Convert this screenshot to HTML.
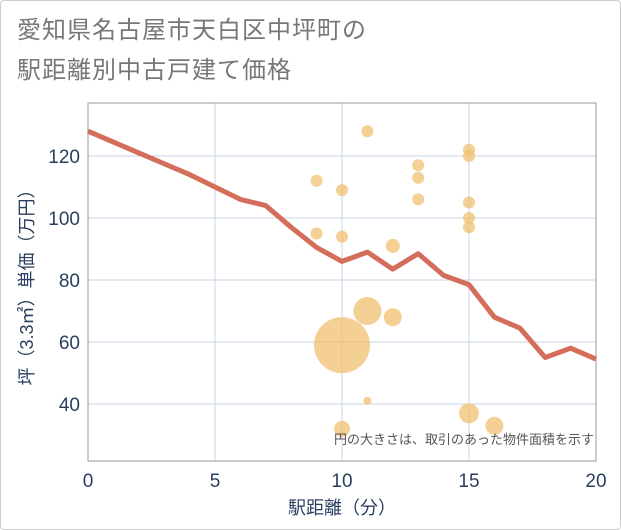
<!DOCTYPE html>
<html><head><meta charset="utf-8"><style>
body{margin:0;background:#fff;font-family:"Liberation Sans","Noto Sans CJK JP",sans-serif;}
#wrap{position:relative;width:619px;height:528px;border:1px solid #ccc;border-radius:4px;overflow:hidden;}
#title{position:absolute;left:16px;top:10px;font-size:24px;line-height:40px;color:#777;letter-spacing:1px;}
</style></head><body>
<div id="wrap">
<div id="title">愛知県名古屋市天白区中坪町の<br>駅距離別中古戸建て価格</div>
<svg id="chart" width="621" height="530" style="position:absolute;left:-1px;top:-1px"></svg>
</div>
<script>
const lineX=[0,1,2,3,4,5,6,7,8,9,10,11,12,13,14,15,16,17,18,19,20];
const lineY=[128,124.5,121,117.5,114,110,106,104,97,90.5,86,89,83.5,88.5,81.5,78.5,68,64.5,55,58,54.5];
const bubX=[9,10,11,13,13,13,15,15,15,15,15,9,10,12,11,12,10,11,15,16,10];
const bubY=[112,109,128,117,113,106,122,120,105,100,97,95,94,91,70,68,59,41,37,33,32];
const bubR=[6,6,6,6,6,6,6,6,6,6,6,6,6,7,14,9,28,4,10,9,8];
const xTicks=[0,5,10,15,20];
const yTicks=[40,60,80,100,120];
const L=88,R=596,T=103,B=461;
const sx=v=>L+(v-0)*(R-L)/20;
const sy=v=>404-(v-40)*(404-156)/80;
const svg=document.getElementById('chart');
const NS='http://www.w3.org/2000/svg';
function mk(t,a){const e=document.createElementNS(NS,t);for(const k in a)e.setAttribute(k,a[k]);svg.appendChild(e);return e;}
let e;
e=mk('rect',{x:L,y:T,width:R-L,height:B-T,fill:'#fff'});


xTicks.forEach(v=>{
 e=mk('line',{x1:sx(v),x2:sx(v),y1:T,y2:B,stroke:'#c8d6e3','stroke-width':1});
 
 
 e=mk('text',{x:sx(v),y:487,'text-anchor':'middle','font-size':19,fill:'#2a3f5f'});e.textContent=v;
 
 
});
yTicks.forEach(v=>{
 e=mk('line',{x1:L,x2:R,y1:sy(v),y2:sy(v),stroke:'#c8d6e3','stroke-width':1});
 
 
 e=mk('text',{x:80,y:sy(v)+7,'text-anchor':'end','font-size':19,fill:'#2a3f5f'});e.textContent=v;
 
 
});
e=mk('path',{d:`M${L},${T}V${B}H${R}V${T}Z`,fill:'none',stroke:'#999','stroke-width':1});


bubX.forEach((x,i)=>{
 e=mk('circle',{cx:sx(x),cy:sy(bubY[i]),r:bubR[i],fill:'#f0c070','fill-opacity':0.75});
 
 
});
e=mk('polyline',{points:lineX.map((x,i)=>sx(x)+','+sy(lineY[i])).join(' '),fill:'none',stroke:'#d46e5a','stroke-width':5,'stroke-linejoin':'round'});


e=mk('text',{x:594,y:444,'text-anchor':'end','font-size':13,fill:'#555'});e.textContent='円の大きさは、取引のあった物件面積を示す';


e=mk('text',{x:342,y:514,'text-anchor':'middle','font-size':18,fill:'#2a3f5f'});e.textContent='駅距離（分）';


e=mk('text',{x:0,y:0,'text-anchor':'middle','font-size':18,fill:'#2a3f5f',transform:'translate(33,283) rotate(-90)'});e.textContent='坪（3.3㎡）単価（万円）';


</script>
</body></html>
